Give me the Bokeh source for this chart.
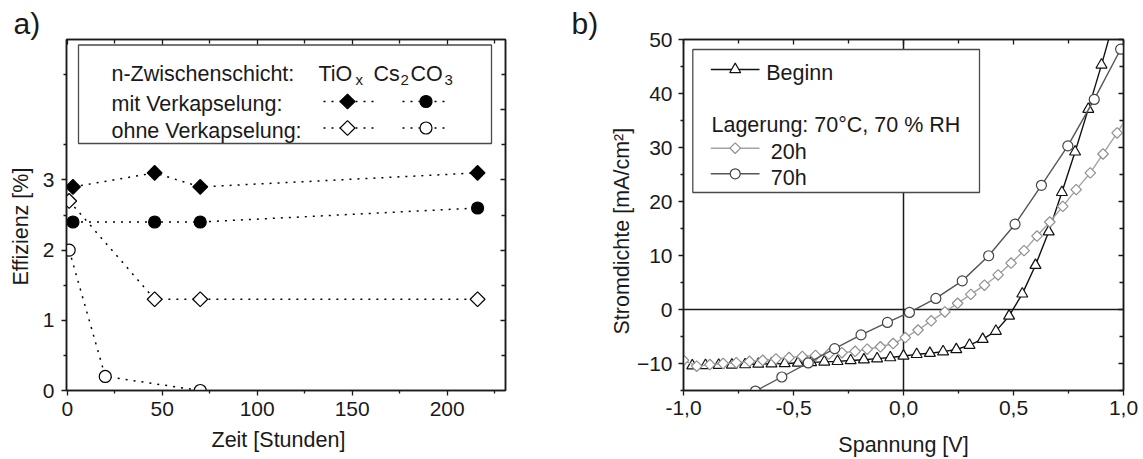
import math
from bokeh.plotting import figure
from bokeh.models import Range1d, LinearAxis, FixedTicker, Label, CustomJSTickFormatter, Title
from bokeh.layouts import row
from bokeh.embed import file_html
from bokeh.resources import INLINE

FONT = "Liberation Sans"
TICK_FS = "21px"
TXT_FS = "21.5px"
INK = "#1a1a1a"

# ---------------- panel a data ----------------
hours_tiox_enc = [3, 46, 70, 216]
eff_tiox_enc = [2.9, 3.1, 2.9, 3.1]
hours_cs_enc = [3, 46, 70, 216]
eff_cs_enc = [2.4, 2.4, 2.4, 2.6]
hours_tiox_open = [1, 46, 70, 216]
eff_tiox_open = [2.7, 1.3, 1.3, 1.3]
hours_cs_open = [1, 20, 70]
eff_cs_open = [2.0, 0.2, 0.0]

x_ticks_a = [0, 50, 100, 150, 200]
x_minor_a = [25, 75, 125, 175, 225]
y_ticks_a = [0, 1, 2, 3]
y_minor_a = [0.5, 1.5, 2.5, 3.5, 4.5]
y_ticks_a_right = [1, 2, 3, 4]

# ---------------- panel b data ----------------
v_beginn = [-0.96, -0.90, -0.84, -0.78, -0.72, -0.66, -0.60, -0.54, -0.48, -0.42, -0.36,
            -0.30, -0.24, -0.18, -0.12, -0.06, 0.00, 0.06, 0.12, 0.18, 0.24, 0.30, 0.36,
            0.42, 0.48, 0.54, 0.60, 0.66, 0.72, 0.78, 0.84, 0.90, 0.96]
j_beginn = [-10.4, -10.35, -10.3, -10.25, -10.2, -10.1, -10.05, -10.0, -9.9, -9.8, -9.7,
            -9.6, -9.45, -9.3, -9.1, -8.9, -8.6, -8.3, -8.1, -7.8, -7.4, -6.6, -5.5,
            -4.0, -1.2, 2.9, 8.2, 14.4, 21.7, 29.2, 37.1, 45.3, 54.0]

v_20h = [-1.0, -0.94, -0.88, -0.82, -0.76, -0.70, -0.64, -0.58, -0.52, -0.46, -0.40,
         -0.34, -0.28, -0.22, -0.165, -0.105, -0.047, 0.008, 0.066, 0.126, 0.188, 0.246,
         0.306, 0.368, 0.43, 0.489, 0.548, 0.607, 0.665, 0.724, 0.785, 0.849, 0.907,
         0.971, 1.03]
j_20h = [-9.4, -10.5, -10.2, -10.0, -9.85, -9.6, -9.4, -9.15, -8.9, -8.7, -8.5,
         -8.25, -8.0, -7.75, -7.35, -6.9, -6.3, -5.2, -3.8, -2.1, -0.45, 1.15,
         2.8, 4.5, 6.4, 8.6, 10.9, 13.6, 16.2, 19.1, 22.2, 25.3, 28.8,
         32.7, 36.6]

v_70h = [-0.673, -0.553, -0.433, -0.313, -0.193, -0.073, 0.027, 0.147, 0.267, 0.387,
         0.507, 0.627, 0.747, 0.867, 0.987]
j_70h = [-15.1, -12.5, -9.9, -7.25, -4.7, -2.4, -0.55, 2.05, 5.3, 9.95,
         15.8, 23.0, 30.3, 38.9, 48.2]

x_ticks_b = [-1.0, -0.5, 0.0, 0.5, 1.0]
x_minor_b = [-0.75, -0.25, 0.25, 0.75]
y_ticks_b = [-10, 0, 10, 20, 30, 40, 50]
y_minor_b = [-15, -5, 5, 15, 25, 35, 45]
ZERO_V = 0.0
ZERO_J = 0.0

C_BEGINN = "#111111"
C_20H = "#a3a3a3"
C_20H_MK = "#8f8f8f"
C_70H = "#555555"
C_70H_MK = "#444444"

H = 459


def make_fig(w, frame, xr, yr):
    fl, ft, fr, fb = frame
    p = figure(width=w, height=H, x_range=Range1d(*xr), y_range=Range1d(*yr),
               output_backend="svg", toolbar_location=None,
               min_border_left=fl, min_border_right=w - fr,
               min_border_top=ft, min_border_bottom=H - fb)
    p.grid.visible = False
    p.outline_line_color = INK
    p.outline_line_width = 1.5
    p.background_fill_color = "white"
    p.border_fill_color = "white"
    return p


def style_axis(ax, ticks, minor, outside, formatter=None, standoff=6):
    ax.ticker = FixedTicker(ticks=ticks, minor_ticks=minor)
    ax.axis_line_color = INK
    ax.axis_line_width = 1.5
    ax.major_tick_line_color = INK
    ax.minor_tick_line_color = INK
    ax.major_tick_line_width = 1.3
    ax.minor_tick_line_width = 1.3
    if outside:
        ax.major_tick_out = 5
        ax.major_tick_in = 0
        ax.minor_tick_out = 3
        ax.minor_tick_in = 0
        ax.major_label_text_font = FONT
        ax.major_label_text_font_size = TICK_FS
        ax.major_label_text_color = INK
        ax.major_label_standoff = standoff
        if formatter is not None:
            ax.formatter = formatter
    else:
        ax.major_tick_out = 0
        ax.major_tick_in = 5
        ax.minor_tick_out = 0
        ax.minor_tick_in = 4
        ax.formatter = CustomJSTickFormatter(code="return ''")
        ax.major_label_text_font_size = "0px"
        ax.major_label_standoff = 0


def add_box_axes(p, xt, xm, yt, ym, yt_right, xfmt=None, xstand=5, ystand=7):
    bottom = p.below[0]
    left = p.left[0]
    style_axis(bottom, xt, xm, True, xfmt, xstand)
    style_axis(left, yt, ym, True, None, ystand)
    top = LinearAxis()
    style_axis(top, xt, xm, False)
    right = LinearAxis()
    style_axis(right, yt_right, ym, False)
    p.add_layout(top, "above")
    p.add_layout(right, "right")
    return bottom, left


def px2data(px, py, frame, xr, yr):
    fl, ft, fr, fb = frame
    x = xr[0] + (px - fl) / (fr - fl) * (xr[1] - xr[0])
    y = yr[1] - (py - ft) / (fb - ft) * (yr[1] - yr[0])
    return x, y


def add_text(p, frame, px, py, text, size=TXT_FS, align="left", baseline="alphabetic"):
    fl, ft, fr, fb = frame
    p.add_layout(Label(x=px - fl, y=fb - py, x_units="screen", y_units="screen",
                       text=text, text_font=FONT, text_font_size=size, text_color=INK,
                       text_align=align, text_baseline=baseline))


def add_title(p, text, side, offset, size=TXT_FS, standoff=0):
    t = Title(text=text, align="left", offset=offset, standoff=standoff,
              text_font=FONT, text_font_size=size, text_font_style="normal",
              text_color=INK)
    p.add_layout(t, side)
    return t


# =============== panel a ===============
FRAME_A = (66, 39, 505, 390)
XR_A = (-0.4, 230.7)
YR_A = (0, 5)
pa = make_fig(560, FRAME_A, XR_A, YR_A)
add_box_axes(pa, x_ticks_a, x_minor_a, y_ticks_a, y_minor_a, y_ticks_a_right, xstand=6, ystand=7)

DOT = "2 6"
series_a = [
    (hours_tiox_enc, eff_tiox_enc, "square", math.pi / 4, 10.5, "black"),
    (hours_cs_enc, eff_cs_enc, "circle", 0.0, 12, "black"),
    (hours_tiox_open, eff_tiox_open, "square", math.pi / 4, 10.5, "white"),
    (hours_cs_open, eff_cs_open, "circle", 0.0, 12, "white"),
]
for xs, ys, mk, ang, sz, fill in series_a:
    pa.line(xs, ys, line_color="black", line_width=1.5, line_dash=DOT)
for xs, ys, mk, ang, sz, fill in series_a:
    pa.scatter(xs, ys, marker=mk, angle=ang, size=sz, fill_color=fill,
               line_color="black", line_width=1.2)

# legend a (box + samples)
x0, y0 = px2data(78, 143, FRAME_A, XR_A, YR_A)
x1, y1 = px2data(491, 44.5, FRAME_A, XR_A, YR_A)
pa.quad(left=[x0], right=[x1], bottom=[y0], top=[y1], fill_color="white",
        line_color="#4a4a4a", line_width=1.3)
leg_rows_a = [(101, "black"), (127.5, "white")]
leg_cols_a = [(323, 373, 347, "square", math.pi / 4, 10.5), (402, 450, 425.5, "circle", 0.0, 12)]
for ry, fill in leg_rows_a:
    for lx0, lx1, mx, mk, ang, sz in leg_cols_a:
        a0, b0 = px2data(lx0, ry, FRAME_A, XR_A, YR_A)
        a1, _ = px2data(lx1, ry, FRAME_A, XR_A, YR_A)
        am, _ = px2data(mx, ry, FRAME_A, XR_A, YR_A)
        pa.line([a0, a1], [b0, b0], line_color="black", line_width=1.5, line_dash=DOT)
        pa.scatter([am], [b0], marker=mk, angle=ang, size=sz, fill_color=fill,
                   line_color="black", line_width=1.2)

add_text(pa, FRAME_A, 111, 73, "n-Zwischenschicht:")
add_text(pa, FRAME_A, 318, 73, "TiO")
add_text(pa, FRAME_A, 355, 79, "x", size="15px")
add_text(pa, FRAME_A, 373, 73, "Cs")
add_text(pa, FRAME_A, 400, 79, "2", size="15px")
add_text(pa, FRAME_A, 410, 73, "CO")
add_text(pa, FRAME_A, 444, 79, "3", size="15px")
add_text(pa, FRAME_A, 111, 103, "mit Verkapselung:")
add_text(pa, FRAME_A, 111, 130, "ohne Verkapselung:")

add_title(pa, "a)", "above", 13 - 66, size="30px")
add_title(pa, "Effizienz [%]", "left", 390 - 285, standoff=13)
add_title(pa, "Zeit [Stunden]", "below", 211 - 66, standoff=14)

# =============== panel b ===============
FRAME_B = (123, 39, 563, 390)
XR_B = (-1.0, 1.0)
YR_B = (-15, 50)
pb = make_fig(583, FRAME_B, XR_B, YR_B)
fmt_b = CustomJSTickFormatter(code="return tick.toFixed(1).replace('.', ',');")
xb, yb = add_box_axes(pb, x_ticks_b, x_minor_b, y_ticks_b, y_minor_b, y_ticks_b,
                      xfmt=fmt_b, xstand=5, ystand=6)
xb.axis_label = "Spannung [V]"
xb.axis_label_text_font = FONT
xb.axis_label_text_font_size = TXT_FS
xb.axis_label_text_font_style = "normal"
xb.axis_label_text_color = INK
xb.axis_label_standoff = 15

pb.vspan(x=[ZERO_V], line_color=INK, line_width=1.5)
pb.hspan(y=[ZERO_J], line_color=INK, line_width=1.5)

pb.line(v_beginn, j_beginn, line_color=C_BEGINN, line_width=1.4)
pb.scatter(v_beginn, j_beginn, marker="triangle", size=11, fill_color="white",
           line_color=C_BEGINN, line_width=1.2)
pb.line(v_20h, j_20h, line_color=C_20H, line_width=1.4)
pb.scatter(v_20h, j_20h, marker="square", angle=math.pi / 4, size=7.5, fill_color="white",
           line_color=C_20H_MK, line_width=1.2)
pb.line(v_70h, j_70h, line_color=C_70H, line_width=1.4)
pb.scatter(v_70h, j_70h, marker="circle", size=10, fill_color="white",
           line_color=C_70H_MK, line_width=1.2)

# legend b
x0, y0 = px2data(132.3, 192, FRAME_B, XR_B, YR_B)
x1, y1 = px2data(419, 49, FRAME_B, XR_B, YR_B)
pb.quad(left=[x0], right=[x1], bottom=[y0], top=[y1], fill_color="white",
        line_color="#4a4a4a", line_width=1.3)
leg_b = [
    (69, C_BEGINN, C_BEGINN, "triangle", 0.0, 11),
    (147.7, C_20H, C_20H_MK, "square", math.pi / 4, 7.5),
    (173.3, C_70H, C_70H_MK, "circle", 0.0, 10),
]
for ry, lc, mc, mk, ang, sz in leg_b:
    a0, b0 = px2data(150.3, ry, FRAME_B, XR_B, YR_B)
    a1, _ = px2data(199, ry, FRAME_B, XR_B, YR_B)
    am, _ = px2data(174.7, ry, FRAME_B, XR_B, YR_B)
    pb.line([a0, a1], [b0, b0], line_color=lc, line_width=1.4)
    pb.scatter([am], [b0], marker=mk, angle=ang, size=sz, fill_color="white",
               line_color=mc, line_width=1.2)

add_text(pb, FRAME_B, 205.7, 72, "Beginn")
add_text(pb, FRAME_B, 151, 124.5, "Lagerung: 70°C, 70 % RH")
add_text(pb, FRAME_B, 210.3, 151, "20h")
add_text(pb, FRAME_B, 210.3, 177.5, "70h")

add_title(pb, "b)", "above", 571 - 683, size="30px")
add_title(pb, "Stromdichte [mA/cm²]", "left", 390 - 334, standoff=0)

layout = row(pa, pb)
open("out.html", "w").write(file_html(layout, INLINE))
